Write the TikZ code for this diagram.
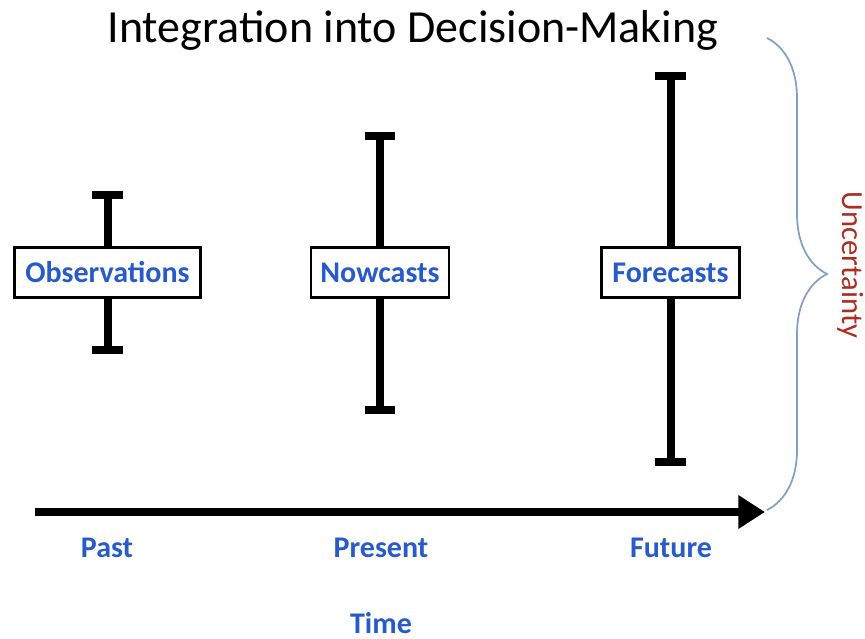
\documentclass[tikz,border=0pt]{standalone}
\usepackage{fontspec}
\setmainfont{Carlito}
\usetikzlibrary{arrows.meta,decorations.pathreplacing}

\definecolor{timeblue}{RGB}{40,90,200}
\definecolor{uncred}{RGB}{170,45,35}
\definecolor{bracegray}{RGB}{130,160,195}

\begin{document}
\begin{tikzpicture}[x=0.75pt,y=-0.75pt,
    boxtext/.style={text=timeblue,font=\bfseries\fontsize{22.5}{26}\selectfont},
    valbox/.style={boxtext,draw,line width=2.2pt,fill=white,minimum height=37pt,inner sep=0pt},
    bar/.style={line width=6pt}]

    \useasboundingbox (0,0) rectangle (865,639);

    % Titel
    \node[anchor=base,font=\fontsize{34.5}{40}\selectfont] (title) at (413,42) {Integration into Decision-Making};

    % Enden der Fehlerbalken
    \coordinate (obstop) at (107.5,195);
    \coordinate (obsbot) at (107.5,350);
    \coordinate (nowtop) at (380,136);
    \coordinate (nowbot) at (380,410);
    \coordinate (foretop) at (670.5,76);
    \coordinate (forebot) at (670.5,462);

    % Kaesten
    \node[valbox,minimum width=140pt] (obs) at (107.5,272.5) {Observations};
    \node[valbox,minimum width=103.5pt] (now) at (380,272.5) {Nowcasts};
    \node[valbox,minimum width=104pt] (fore) at (670.5,272.5) {Forecasts};

    % Fehlerbalken mit Querstrichen
    \draw[bar] (obstop) -- (obs) (obs) -- (obsbot);
    \draw[bar] ([xshift=-11.5pt]obstop) -- ([xshift=11.5pt]obstop);
    \draw[bar] ([xshift=-11.5pt]obsbot) -- ([xshift=11.5pt]obsbot);
    \draw[bar] (nowtop) -- (now) (now) -- (nowbot);
    \draw[bar] ([xshift=-11.5pt]nowtop) -- ([xshift=11.5pt]nowtop);
    \draw[bar] ([xshift=-11.5pt]nowbot) -- ([xshift=11.5pt]nowbot);
    \draw[bar] (foretop) -- (fore) (fore) -- (forebot);
    \draw[bar] ([xshift=-11.5pt]foretop) -- ([xshift=11.5pt]foretop);
    \draw[bar] ([xshift=-11.5pt]forebot) -- ([xshift=11.5pt]forebot);

    % Zeitachse
    \coordinate (tstart) at (35,512);
    \coordinate (tend) at (765,512);
    \draw[line width=6pt,-{Triangle[length=20pt,width=24pt]}] (tstart) -- (tend);

    % Beschriftung
    \node[boxtext,anchor=base] (past) at (107,557) {Past};
    \node[boxtext,anchor=base] (present) at (381,557) {Present};
    \node[boxtext,anchor=base] (future) at (671,557) {Future};
    \node[boxtext,anchor=base] (time) at (381,633) {Time};

    % Klammer
    \coordinate (btop) at (767,38);
    \coordinate (bbot) at (767,510);
    \draw[bracegray,line width=1.3pt,decorate,decoration={brace,amplitude=45pt}] (btop) -- (bbot);
    \node[text=uncred,rotate=-90,font=\fontsize{23}{28}\selectfont] (unc) at (851,265) {Uncertainty};

\end{tikzpicture}
\end{document}
